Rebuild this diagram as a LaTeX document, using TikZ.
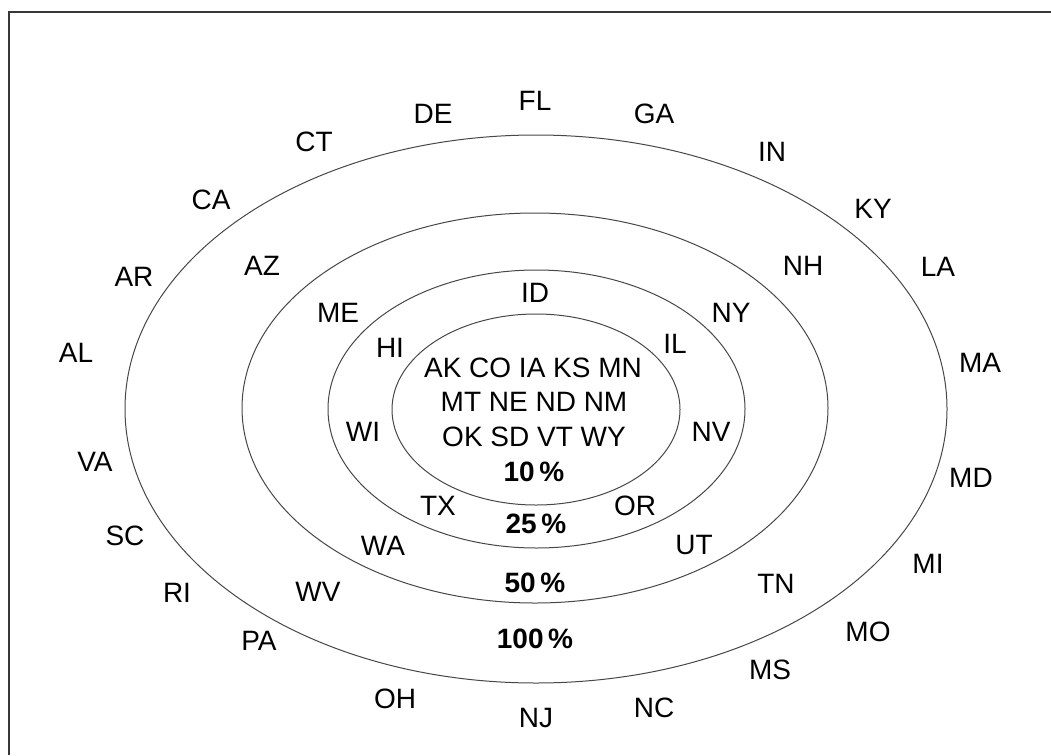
\documentclass[tikz,border=0pt]{standalone}
\usepackage{fontspec}
\setmainfont{Liberation Sans}
\begin{document}
\begin{tikzpicture}[x=1pt,y=-1pt,
  lbl/.style={font=\fontsize{28}{33}\selectfont, text height=20pt, text depth=0pt, inner sep=0pt},
  pct/.style={lbl, font=\fontsize{28}{33}\selectfont\bfseries},
  ring/.style={draw=black!72, line width=1pt},
  frame/.style={draw=black!78, line width=2pt}]
\useasboundingbox (0,0) rectangle (1051,755);
\fill[white] (0,0) rectangle (1051,755);
\coordinate (fb) at (9,755);
\coordinate (fc) at (9,12);
\coordinate (fr) at (1051,12);
\draw[frame] (fb) -- (fc) -- (fr);
% rings
\draw[ring] (536,409) ellipse [x radius=411pt, y radius=274pt];
\draw[ring] (535,408) ellipse [x radius=293pt, y radius=195pt];
\draw[ring] (536.5,409) ellipse [x radius=208.5pt, y radius=139pt];
\draw[ring] (536,409.5) ellipse [x radius=144pt, y radius=95.5pt];
% inner
\node[lbl] (c1) at (533,367) {AK CO IA KS MN};
\node[lbl] (c2) at (534,401.5) {MT NE ND NM};
\node[lbl] (c3) at (534,436) {OK SD VT WY};
\node[pct] (p10) at (534,471) {10\,\%};
\node[pct] (p25) at (536,523) {25\,\%};
\node[pct] (p50) at (535,582) {50\,\%};
\node[pct] (p100) at (535,638) {100\,\%};
% ring 25
\node[lbl] (ID) at (535,292) {ID};
\node[lbl] (HI) at (390,347) {HI};
\node[lbl] (IL) at (675,343) {IL};
\node[lbl] (WI) at (363,431) {WI};
\node[lbl] (NV) at (711,431) {NV};
\node[lbl] (TX) at (438,505) {TX};
\node[lbl] (OR) at (635,505) {OR};
% ring 50
\node[lbl] (ME) at (338,312) {ME};
\node[lbl] (NY) at (731,312) {NY};
\node[lbl] (WA) at (383,545) {WA};
\node[lbl] (UT) at (694,544) {UT};
% ring 100
\node[lbl] (AZ) at (262,265) {AZ};
\node[lbl] (NH) at (803,265) {NH};
\node[lbl] (WV) at (318,591) {WV};
\node[lbl] (TN) at (776,583) {TN};
% outside
\node[lbl] (FL) at (535,100) {FL};
\node[lbl] (DE) at (433,113) {DE};
\node[lbl] (GA) at (654,113) {GA};
\node[lbl] (CT) at (314,141) {CT};
\node[lbl] (IN) at (772,151) {IN};
\node[lbl] (CA) at (211,199) {CA};
\node[lbl] (KY) at (873,208) {KY};
\node[lbl] (AR) at (134,276) {AR};
\node[lbl] (LA) at (938,266) {LA};
\node[lbl] (AL) at (76,352) {AL};
\node[lbl] (MA) at (980,362) {MA};
\node[lbl] (VA) at (95,461) {VA};
\node[lbl] (MD) at (971,477) {MD};
\node[lbl] (SC) at (125,535) {SC};
\node[lbl] (MI) at (928,563) {MI};
\node[lbl] (RI) at (177,592) {RI};
\node[lbl] (PA) at (259,640) {PA};
\node[lbl] (MO) at (868,631) {MO};
\node[lbl] (MS) at (770,669) {MS};
\node[lbl] (OH) at (395,698) {OH};
\node[lbl] (NC) at (654,707) {NC};
\node[lbl] (NJ) at (536,717) {NJ};
\end{tikzpicture}
\end{document}
